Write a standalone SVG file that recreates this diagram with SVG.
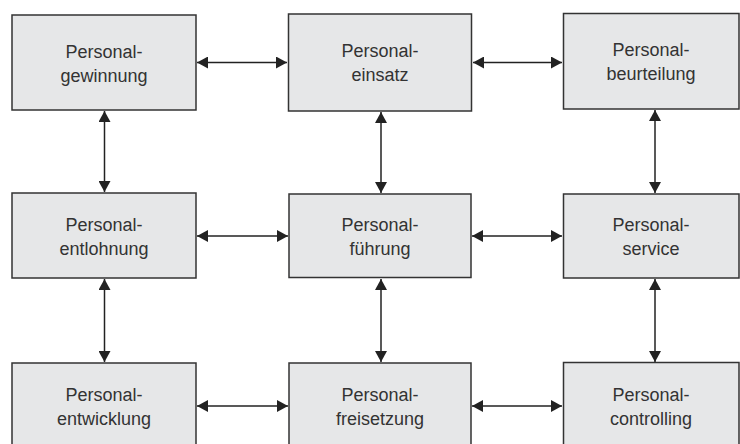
<svg xmlns="http://www.w3.org/2000/svg" width="740" height="444" viewBox="0 0 740 444">
<defs>
<style>
.box{fill:#e6e7e8;stroke:#333;stroke-width:1.5}
.t{font-family:"Liberation Sans",Arial,sans-serif;font-size:18px;fill:#333;text-anchor:middle}
.c{stroke:#222;stroke-width:1.5;fill:none;marker-start:url(#ah);marker-end:url(#ah)}
</style>
<marker id="ah" viewBox="0 0 11 12" refX="11" refY="6" markerWidth="11" markerHeight="12" orient="auto-start-reverse" markerUnits="userSpaceOnUse">
<path d="M0,0 L11,6 L0,12 z" fill="#222"/>
</marker>
</defs>
<rect width="740" height="444" fill="#fff"/>
<g id="connectors">
<line class="c" x1="197" y1="62.5" x2="287" y2="62.5"/>
<line class="c" x1="473" y1="62.5" x2="562" y2="62.5"/>
<line class="c" x1="197" y1="236" x2="288" y2="236"/>
<line class="c" x1="472" y1="236" x2="562" y2="236"/>
<line class="c" x1="197" y1="406" x2="288" y2="406"/>
<line class="c" x1="472" y1="406" x2="562" y2="406"/>
<line class="c" x1="104.5" y1="111" x2="104.5" y2="192"/>
<line class="c" x1="104.5" y1="279" x2="104.5" y2="362"/>
<line class="c" x1="381" y1="112" x2="381" y2="193"/>
<line class="c" x1="381" y1="279" x2="381" y2="362"/>
<line class="c" x1="655" y1="110" x2="655" y2="193"/>
<line class="c" x1="655" y1="279" x2="655" y2="362"/>
</g>
<g id="n1"><rect class="box" x="12" y="15" width="184" height="95"/><text class="t" x="104" y="58">Personal-</text><text class="t" x="104" y="82">gewinnung</text></g>
<g id="n2"><rect class="box" x="288.5" y="14" width="183" height="97"/><text class="t" x="380" y="57">Personal-</text><text class="t" x="380" y="81">einsatz</text></g>
<g id="n3"><rect class="box" x="563.5" y="13.5" width="175.5" height="95.5"/><text class="t" x="651" y="56">Personal-</text><text class="t" x="651" y="80">beurteilung</text></g>
<g id="n4"><rect class="box" x="12" y="193" width="184" height="85"/><text class="t" x="104" y="231">Personal-</text><text class="t" x="104" y="255">entlohnung</text></g>
<g id="n5"><rect class="box" x="289" y="194" width="182" height="83.5"/><text class="t" x="380" y="231">Personal-</text><text class="t" x="380" y="255">führung</text></g>
<g id="n6"><rect class="box" x="563.5" y="194" width="175.5" height="84"/><text class="t" x="651" y="231">Personal-</text><text class="t" x="651" y="255">service</text></g>
<g id="n7"><rect class="box" x="12" y="363" width="184" height="90"/><text class="t" x="104" y="401">Personal-</text><text class="t" x="104" y="425">entwicklung</text></g>
<g id="n8"><rect class="box" x="289" y="363" width="182" height="90"/><text class="t" x="380" y="401">Personal-</text><text class="t" x="380" y="425">freisetzung</text></g>
<g id="n9"><rect class="box" x="563.5" y="362.5" width="175.5" height="90"/><text class="t" x="651" y="401">Personal-</text><text class="t" x="651" y="425">controlling</text></g>
</svg>
